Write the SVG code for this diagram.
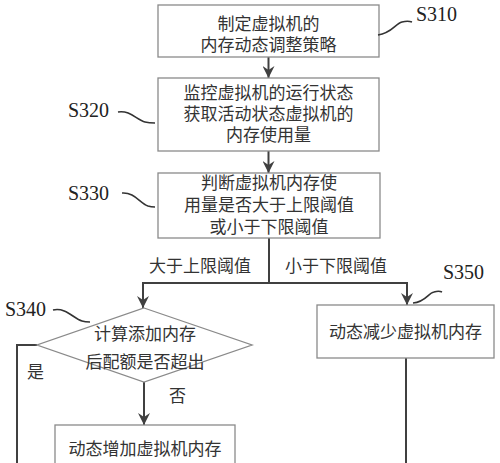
<svg xmlns="http://www.w3.org/2000/svg" width="500" height="463" viewBox="0 0 500 463">
<defs>
<style>
.box{fill:#fff;stroke:#8a8a8a;stroke-width:1.3}
.t{font-family:"Liberation Sans","Noto Sans CJK SC",sans-serif;font-size:17px;fill:#333;text-anchor:middle}
.tl{font-family:"Liberation Sans","Noto Sans CJK SC",sans-serif;font-size:17px;fill:#333}
.s{font-family:"Liberation Serif",serif;font-size:20px;fill:#222}
.c{fill:none;stroke:#404040;stroke-width:2}
.cv{fill:none;stroke:#333;stroke-width:1.6}
</style>
<marker id="ad" markerUnits="userSpaceOnUse" markerWidth="12" markerHeight="14" refX="6" refY="13" viewBox="0 0 12 14">
<path d="M0,1 L6,5 L12,1 L6,13 Z" fill="#404040"/>
</marker>
</defs>
<rect width="500" height="463" fill="#fff"/>
<g id="connectors">
<path class="c" d="M268.5,57 V78" marker-end="url(#ad)"/>
<path class="c" d="M268.5,151 V173" marker-end="url(#ad)"/>
<path class="c" d="M269,238 V283 M143,283 H407"/>
<path class="c" d="M143,282 V308" marker-end="url(#ad)"/>
<path class="c" d="M407,282 V305" marker-end="url(#ad)"/>
<path class="c" d="M144,382 V425" marker-end="url(#ad)"/>
<path class="c" d="M37,345 H17 V463"/>
<path class="c" d="M406,358 V463"/>
<text class="tl" x="149" y="272">大于上限阈值</text>
<text class="tl" x="285" y="272">小于下限阈值</text>
<text class="tl" x="27" y="378">是</text>
<text class="tl" x="169" y="402">否</text>
</g>
<g id="S310">
<rect class="box" x="158" y="5" width="221" height="52"/>
<text class="t"><tspan x="268.5" y="30">制定虚拟机的</tspan><tspan x="268.5" y="51">内存动态调整策略</tspan></text>
<path class="cv" d="M378,35 C392,33 395,24 402,22 C406,21 409,21 412,22"/>
<text class="s" x="416" y="21">S310</text>
</g>
<g id="S320">
<rect class="box" x="158" y="78" width="221" height="73"/>
<text class="t"><tspan x="268.5" y="99">监控虚拟机的运行状态</tspan><tspan x="268.5" y="120">获取活动状态虚拟机的</tspan><tspan x="268.5" y="141">内存使用量</tspan></text>
<path class="cv" d="M118,112 C130,110 137,120 145,122 C149,123 152,123 155,123"/>
<text class="s" x="68" y="117">S320</text>
</g>
<g id="S330">
<rect class="box" x="158" y="173" width="222" height="65"/>
<text class="t"><tspan x="269" y="189">判断虚拟机内存使</tspan><tspan x="269" y="211">用量是否大于上限阈值</tspan><tspan x="269" y="233">或小于下限阈值</tspan></text>
<path class="cv" d="M122,193 C134,192 140,203 148,206 C151,207 153,207 155,207"/>
<text class="s" x="68" y="200">S330</text>
</g>
<g id="S340">
<polygon class="box" points="144,308 252,345 144,382 37,345"/>
<text class="t"><tspan x="145" y="340">计算添加内存</tspan><tspan x="145" y="368">后配额是否超出</tspan></text>
<path class="cv" d="M53,310 C66,307 74,319 82,321 C85,322 88,322 90,322"/>
<text class="s" x="5" y="316">S340</text>
</g>
<g id="S341">
<rect class="box" x="55" y="425" width="180" height="50"/>
<text class="t" x="145" y="455">动态增加虚拟机内存</text>
</g>
<g id="S350">
<rect class="box" x="317" y="305" width="177" height="53"/>
<text class="t" x="405.5" y="338">动态减少虚拟机内存</text>
<path class="cv" d="M413,303 C426,302 428,293 434,292 C437,291 440,291 442,292"/>
<text class="s" x="443" y="279">S350</text>
</g>
</svg>
